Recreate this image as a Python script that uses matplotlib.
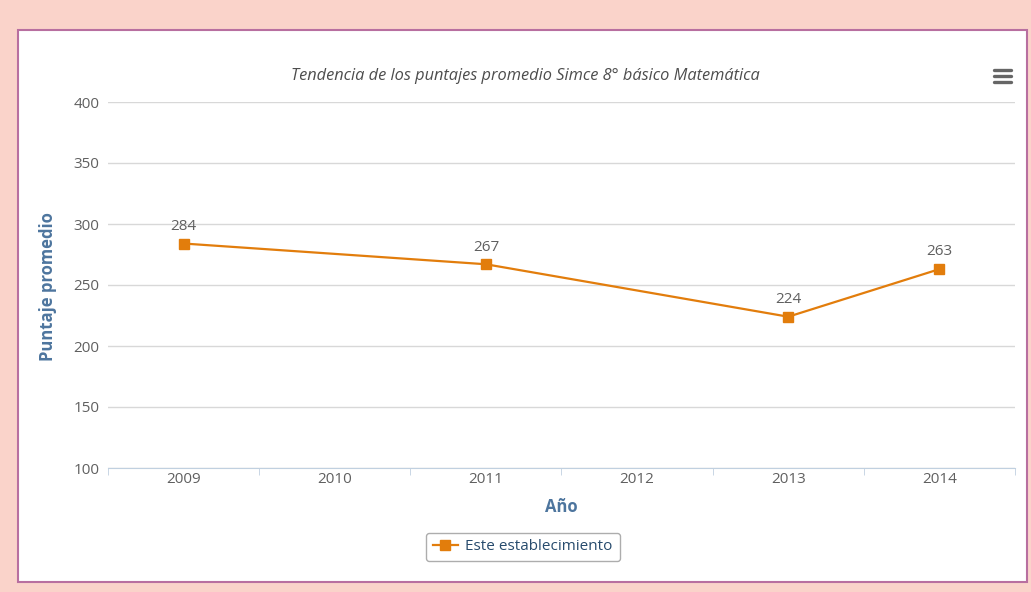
import matplotlib.pyplot as plt
from matplotlib.patches import Rectangle
from matplotlib.lines import Line2D

# Data (2010 and 2012 have no value)
years = ['2009', '2010', '2011', '2012', '2013', '2014']
point_years = ['2009', '2011', '2013', '2014']
scores = [284, 267, 224, 263]
y_ticks = [100, 150, 200, 250, 300, 350, 400]

title = 'Tendencia de los puntajes promedio Simce 8° básico Matemática'
series_name = 'Este establecimiento'

W, H = 1031, 592
plt.rcParams['font.family'] = ['Open Sans', 'DejaVu Sans']

fig = plt.figure(figsize=(W / 100, H / 100), dpi=100)
fig.patch.set_facecolor('#FAD3CA')

# white panel with purple border
panel = Rectangle((18 / W, 1 - 582 / H), (1027 - 18) / W, (582 - 30) / H,
                  transform=fig.transFigure, facecolor='white',
                  edgecolor='#B86FA0', linewidth=1.5, zorder=0)
fig.add_artist(panel)

ax = fig.add_axes([108 / W, 1 - 468 / H, (1015 - 108) / W, (468 - 102) / H])
ax.set_facecolor('none')

x_pos = [years.index(y) for y in point_years]
orange = '#E27D0C'
ax.plot(x_pos, scores, color=orange, linewidth=1.6, marker='s',
        markersize=6.5, label=series_name, zorder=3)
for x, v in zip(x_pos, scores):
    ax.annotate(str(v), (x, v), xytext=(0, 7), textcoords='offset points',
                ha='center', va='bottom', fontsize=11, color='#606060')

ax.set_xlim(-0.5, len(years) - 0.5)
ax.set_ylim(100, 400)
ax.set_yticks(y_ticks)
ax.set_xticks(range(len(years)))
ax.set_xticklabels(years)
ax.set_xticks([i - 0.5 for i in range(len(years) + 1)], minor=True)

ax.grid(axis='y', color='#D8D8D8', linewidth=1)
ax.set_axisbelow(True)
for side in ['top', 'right', 'left']:
    ax.spines[side].set_visible(False)
ax.spines['bottom'].set_color('#C0D0E0')
ax.tick_params(axis='y', length=0, pad=6, labelsize=11, labelcolor='#606060')
ax.tick_params(axis='x', which='major', length=0, pad=3, labelsize=11,
               labelcolor='#606060')
ax.tick_params(axis='x', which='minor', length=5, color='#C0D0E0')

ax.set_xlabel('Año', fontsize=12, fontweight='bold', color='#4D759E', labelpad=8)
fig.text(48 / W, 1 - 287 / H, 'Puntaje promedio', rotation=90, ha='center',
         va='center', fontsize=12, fontweight='bold', color='#4D759E')

fig.text(525 / W, 1 - 76 / H, title, ha='center', va='center', fontsize=11.8,
         style='italic', color='#4D4D4D')

# menu icon
for yy in [70, 76, 82]:
    fig.add_artist(Line2D([994 / W, 1011 / W], [1 - yy / H, 1 - yy / H],
                          transform=fig.transFigure, color='#666666',
                          linewidth=2.4, solid_capstyle='round'))

leg = ax.legend(loc='center', bbox_to_anchor=(523 / W, 1 - 547 / H),
                bbox_transform=fig.transFigure, fontsize=11, frameon=True,
                fancybox=True, edgecolor='#999999', handlelength=1.6,
                borderpad=0.45, handletextpad=0.5)
leg.get_frame().set_linewidth(1)
for t in leg.get_texts():
    t.set_color('#274B6D')

fig.savefig('out.png', dpi=100, facecolor=fig.get_facecolor())
